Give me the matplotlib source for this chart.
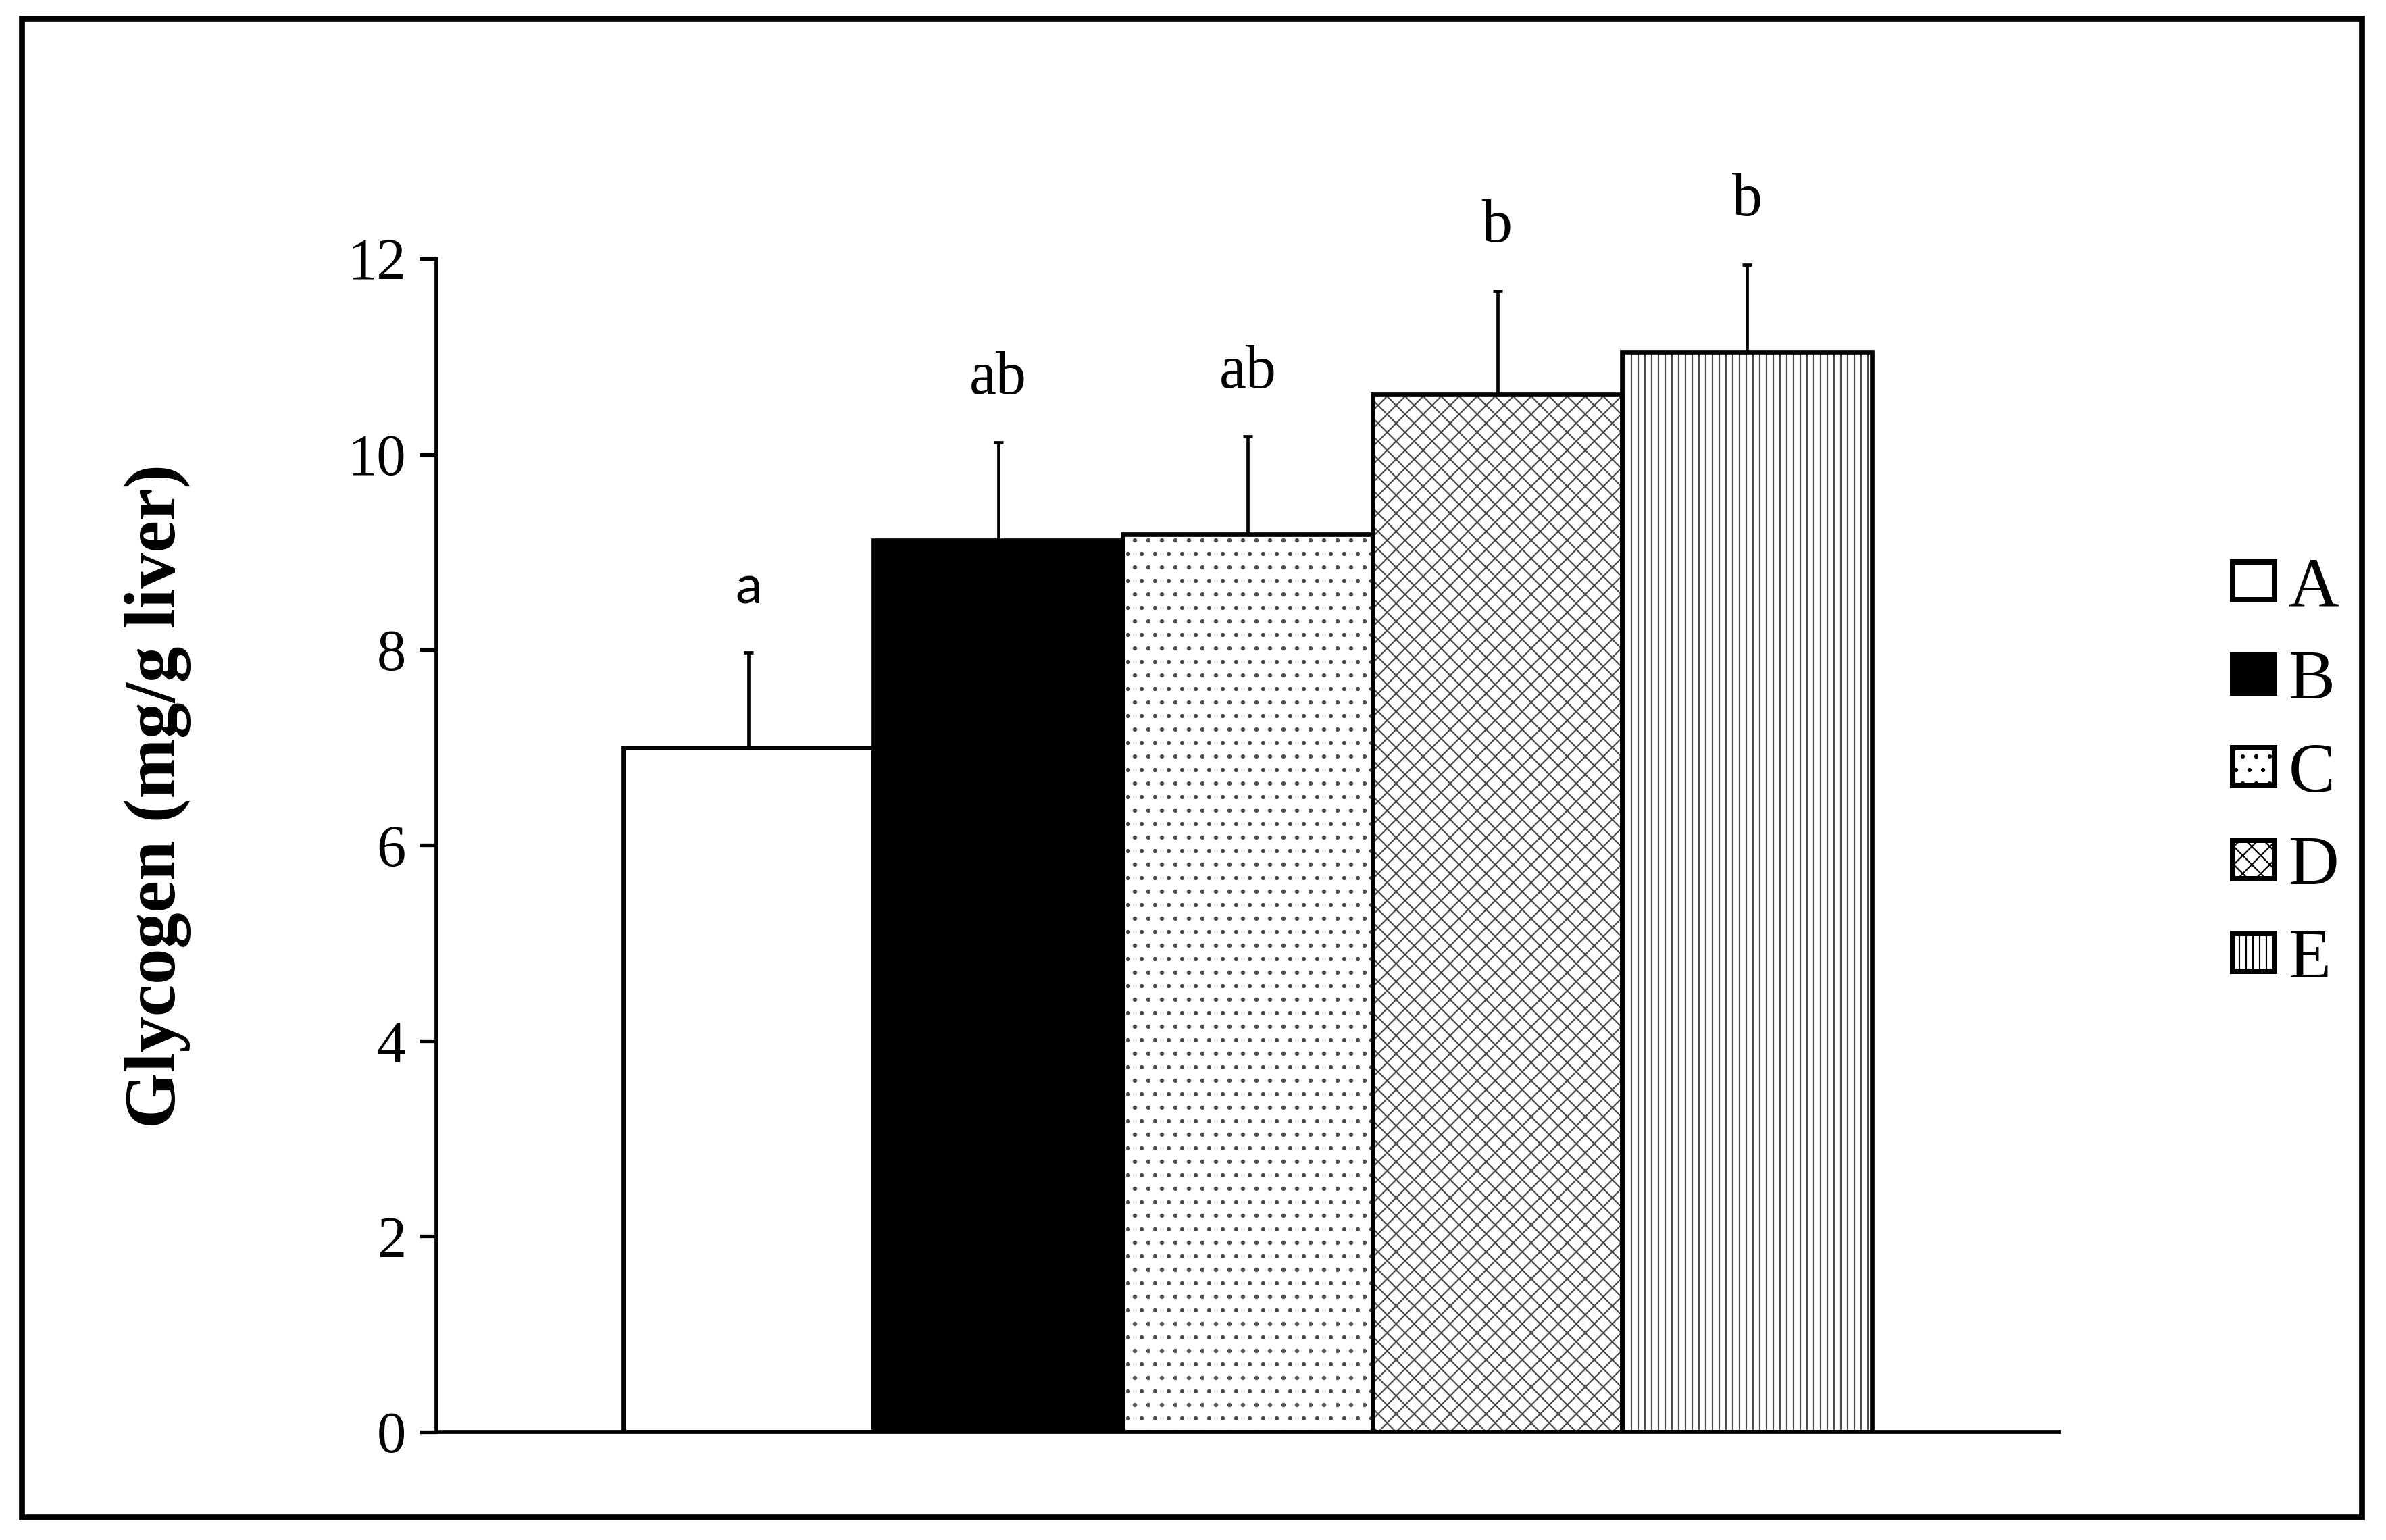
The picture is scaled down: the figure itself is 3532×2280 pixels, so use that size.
import matplotlib
matplotlib.use('Agg')
import matplotlib.pyplot as plt
from matplotlib.patches import Patch, Rectangle
import numpy as np

# data
groups = ['A', 'B', 'C', 'D', 'E']
glycogen = [7.0, 9.12, 9.18, 10.61, 11.05]
sd = [0.97, 1.0, 1.0, 1.06, 0.89]
sig_letters = ['a', 'ab', 'ab', 'b', 'b']

faces = ['white', 'black', 'white', 'white', 'white']
hatches = ['', '', '..', 'xxx', '||||']

plt.rcParams['font.family'] = ['Liberation Serif', 'DejaVu Serif']
plt.rcParams['hatch.linewidth'] = 0.65

fig = plt.figure(figsize=(3532 / 240, 2280 / 240), dpi=240)
ax = fig.add_axes([0.1829, 0.0702, 0.863 - 0.1829, 0.832 - 0.0702])

x = np.arange(len(groups))

# hatched fill first (grey hatch), black outline on top
ax.bar(x, glycogen, width=1.0, color=faces, hatch=hatches,
       edgecolor='#4a4a4a', linewidth=0, zorder=2)
ax.bar(x, glycogen, width=1.0, fill=False, edgecolor='black',
       linewidth=2.0, zorder=3)

# only upper error bars
ax.errorbar(x, glycogen, yerr=[np.zeros(len(sd)), sd], fmt='none',
            ecolor='black', elinewidth=1.4, capsize=2.2, capthick=1.4, zorder=1)

# significance letters
for i, (m, s, t) in enumerate(zip(glycogen, sd, sig_letters)):
    if t == 'a':
        ax.text(i, m + s + 0.5, t, ha='center', va='baseline', fontsize=24,
                family=['Lato', 'DejaVu Sans'])
    else:
        ax.text(i, m + s + 0.5, t, ha='center', va='baseline', fontsize=27)

ax.set_xlim(-1.25, 5.25)
ax.set_ylim(0, 12)
ax.set_yticks(np.arange(0, 13, 2))
ax.set_xticks([])
ax.tick_params(axis='y', direction='out', length=7.5, width=1.6,
               labelsize=26, pad=6)
ax.spines['top'].set_visible(False)
ax.spines['right'].set_visible(False)
ax.spines['left'].set_linewidth(1.7)
ax.spines['bottom'].set_linewidth(1.7)

ax.set_ylabel('Glycogen (mg/g liver)', fontsize=32, fontweight='bold')
ax.yaxis.set_label_coords(-0.151, 0.542)

# legend on the right
handles = [Patch(facecolor=faces[i], edgecolor='black', hatch=hatches[i],
                 linewidth=2.4, label=groups[i]) for i in range(len(groups))]
fig.legend(handles=handles, loc='center left', bbox_to_anchor=(0.9357, 0.497),
           bbox_transform=fig.transFigure, frameon=False, fontsize=31,
           handlelength=0.6, handleheight=0.46, handletextpad=0.2,
           labelspacing=0.42, borderpad=0, borderaxespad=0)

# outer frame
fig.patches.append(Rectangle((0.0091, 0.0149), 0.9898 - 0.0091, 0.988 - 0.0149,
                             transform=fig.transFigure, fill=False,
                             edgecolor='black', linewidth=2.6))

fig.savefig('out.png', dpi=240, facecolor='white')
